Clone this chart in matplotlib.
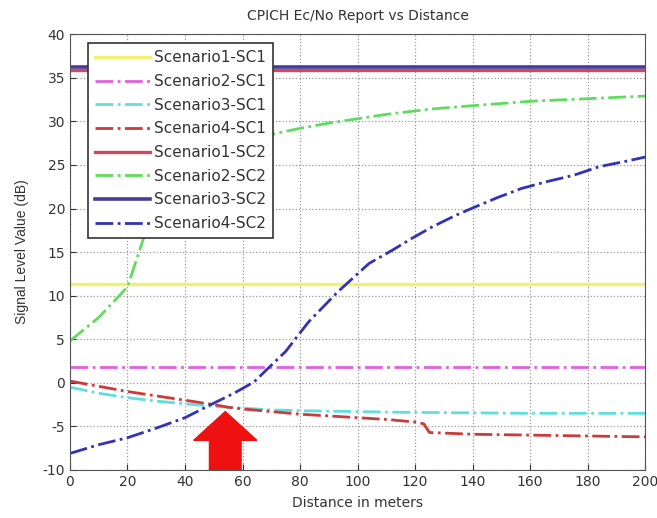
import numpy as np
import matplotlib
matplotlib.use('Agg')
import matplotlib.pyplot as plt
from matplotlib.patches import FancyArrow

plt.rcParams['font.family'] = ['DejaVu Sans']
plt.rcParams['axes.unicode_minus'] = False

# Distance axis samples (m)
dist = [0, 10, 20, 30, 40, 50, 55, 60, 70, 80, 90, 100, 110, 120, 123, 125, 140, 160, 180, 200]

# Flat lines
sc1_s1 = [11.3] * len(dist)
sc1_s2 = [1.8] * len(dist)
sc2_s1 = [35.9] * len(dist)
sc2_s3 = [36.25] * len(dist)

# Scenario3-SC1 (cyan)
sc1_s3 = [-0.5, -1.2, -1.7, -2.1, -2.4, -2.7, -2.8, -2.9, -3.1, -3.2, -3.25, -3.3, -3.35, -3.4,
          -3.4, -3.4, -3.45, -3.5, -3.5, -3.5]
# Scenario4-SC1 (red)
sc1_s4 = [0.2, -0.4, -1.0, -1.5, -2.0, -2.5, -2.8, -3.0, -3.3, -3.6, -3.8, -4.0, -4.2, -4.5,
          -4.7, -5.7, -5.9, -6.0, -6.1, -6.2]
# Scenario2-SC2 (green)
sc2_s2 = [4.8, 7.5, 11.0, 21.0, 25.0, 26.8, 27.4, 27.8, 28.5, 29.2, 29.8, 30.3, 30.8, 31.2,
          31.3, 31.4, 31.8, 32.3, 32.6, 32.9]

# Scenario4-SC2 (blue) has its own sample points
dist_s4 = [0, 10, 20, 30, 40, 49, 57, 64, 69, 75, 78.5, 83, 88, 93, 98, 104, 112, 119, 126,
           134, 141, 149, 157, 166, 175, 184, 193, 200]
sc2_s4 = [-8.1, -7.1, -6.3, -5.2, -4.0, -2.5, -1.2, 0.1, 1.7, 3.6, 5.1, 7.0, 8.7, 10.4, 11.9,
          13.7, 15.2, 16.6, 17.9, 19.2, 20.2, 21.3, 22.3, 23.1, 23.8, 24.8, 25.4, 25.9]

fig = plt.figure(figsize=(6.57, 5.18), dpi=100)
ax = fig.add_axes([0.1065, 0.0927, 0.8755, 0.8413])

ax.plot(dist, sc1_s1, color='#f2ef72', lw=2.4, ls='-', label='Scenario1-SC1')
ax.plot(dist, sc1_s2, color='#e060e0', lw=2.0, ls='-.', label='Scenario2-SC1')
ax.plot(dist, sc1_s3, color='#60dede', lw=2.0, ls='-.', label='Scenario3-SC1')
ax.plot(dist, sc1_s4, color='#cc3a3a', lw=2.0, ls='-.', label='Scenario4-SC1')
ax.plot(dist, sc2_s1, color='#d04a5a', lw=2.4, ls='-', label='Scenario1-SC2')
ax.plot(dist, sc2_s2, color='#5fdc5f', lw=2.0, ls='-.', label='Scenario2-SC2')
ax.plot(dist, sc2_s3, color='#4a3a9c', lw=2.6, ls='-', label='Scenario3-SC2')
ax.plot(dist_s4, sc2_s4, color='#3232b4', lw=2.0, ls='-.', label='Scenario4-SC2')

# red arrow pointing at crossing
ax.add_patch(FancyArrow(54, -10, 0, 6.7, width=11, head_width=22, head_length=3.3,
                        length_includes_head=True, color='#ee1111', zorder=5))

ax.set_xlim(0, 200)
ax.set_ylim(-10, 40)
ax.set_xticks(np.arange(0, 201, 20))
ax.set_yticks(np.arange(-10, 41, 5))
ax.grid(True, ls=':', color='#999999', lw=0.9)
ax.tick_params(direction='in', length=4, labelsize=10, colors='#333333')
for s in ax.spines.values():
    s.set_color('#555555')

ax.set_title('CPICH Ec/No Report vs Distance', fontsize=10, color='#333333', pad=10.5)
ax.set_xlabel('Distance in meters', fontsize=10, color='#333333', labelpad=5)
ax.set_ylabel('Signal Level Value (dB)', fontsize=10, color='#333333', labelpad=10,
              family=['Liberation Sans', 'DejaVu Sans'])

leg = ax.legend(loc='upper left', bbox_to_anchor=(0.031, 0.979), borderaxespad=0, fontsize=11,
                handlelength=3.6, labelspacing=0.57, borderpad=0.45, handletextpad=0.3,
                fancybox=False, framealpha=1, edgecolor='#333333')
leg.get_frame().set_linewidth(1.2)
for t in leg.get_texts():
    t.set_color('#333333')

fig.savefig('out.png', dpi=100)
